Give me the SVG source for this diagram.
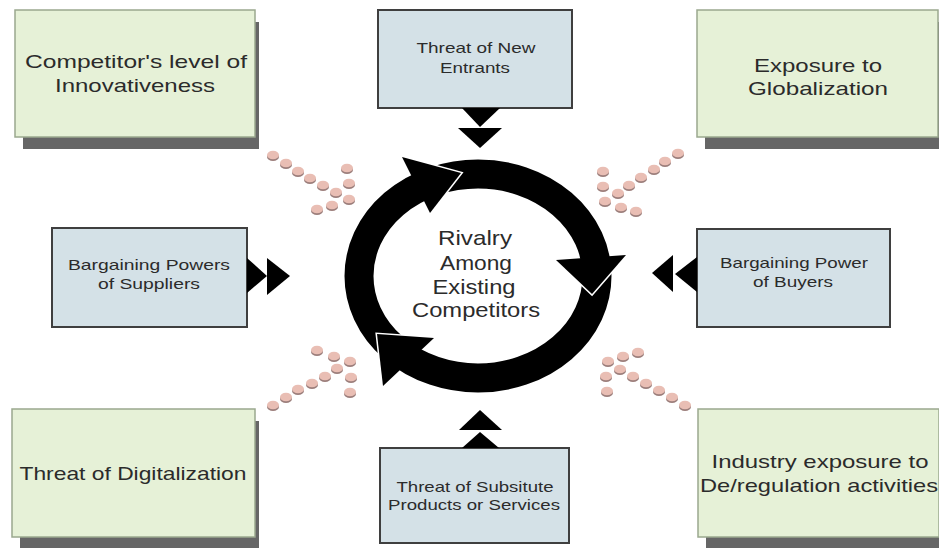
<svg xmlns="http://www.w3.org/2000/svg" width="939" height="548" viewBox="0 0 939 548">
<defs>
<style>
.g{fill:#e6f1d7;stroke:#9aa88e;stroke-width:1.5}
.sh{fill:#666}
.b{fill:#d4e1e7;stroke:#3f3f3f;stroke-width:2}
.t{font-family:"Liberation Sans",Arial,sans-serif;fill:#2b2b2b;text-anchor:middle}
.tg{font-size:19px}
.tb{font-size:15px}
.tc{font-size:21px}
.ar{fill:#000}
.wl{fill:none;stroke:#fff;stroke-width:3;stroke-linejoin:miter}
</style>
<g id="dot">
<ellipse cx="0" cy="1.8" rx="6" ry="4.3" fill="#9c7f7c"/>
<ellipse cx="0" cy="0" rx="6" ry="4.3" fill="#e9beb4"/>
</g>
</defs>
<rect width="939" height="548" fill="#fff"/>

<g id="n-innov">
<rect class="sh" x="23" y="22" width="236" height="127"/>
<rect class="g" x="15" y="10" width="240" height="127"/>
<text class="t tg" x="136" y="68" textLength="222" lengthAdjust="spacingAndGlyphs">Competitor's level of</text>
<text class="t tg" x="135" y="92" textLength="160" lengthAdjust="spacingAndGlyphs">Innovativeness</text>
</g>

<g id="n-glob">
<rect class="sh" x="705" y="22" width="237" height="127"/>
<rect class="g" x="697" y="10" width="241" height="127"/>
<text class="t tg" x="818" y="72" textLength="128" lengthAdjust="spacingAndGlyphs">Exposure to</text>
<text class="t tg" x="818" y="95" textLength="140" lengthAdjust="spacingAndGlyphs">Globalization</text>
</g>

<g id="n-digit">
<rect class="sh" x="20" y="421" width="239" height="128"/>
<rect class="g" x="12" y="409" width="243" height="128"/>
<text class="t tg" x="133" y="480" textLength="227" lengthAdjust="spacingAndGlyphs">Threat of Digitalization</text>
</g>

<g id="n-dereg">
<rect class="sh" x="706" y="421" width="237" height="128"/>
<rect class="g" x="698" y="409" width="241" height="128"/>
<text class="t tg" x="820" y="468" textLength="217" lengthAdjust="spacingAndGlyphs">Industry exposure to</text>
<text class="t tg" x="819" y="492" textLength="238" lengthAdjust="spacingAndGlyphs">De/regulation activities</text>
</g>

<g id="n-entrants">
<rect class="b" x="378" y="10" width="194" height="98"/>
<text class="t tb" x="476" y="53" textLength="119" lengthAdjust="spacingAndGlyphs">Threat of New</text>
<text class="t tb" x="475" y="73" textLength="70" lengthAdjust="spacingAndGlyphs">Entrants</text>
</g>

<g id="n-suppliers">
<rect class="b" x="52" y="228" width="195" height="99"/>
<text class="t tb" x="149" y="270" textLength="162" lengthAdjust="spacingAndGlyphs">Bargaining Powers</text>
<text class="t tb" x="149" y="289" textLength="102" lengthAdjust="spacingAndGlyphs">of Suppliers</text>
</g>

<g id="n-buyers">
<rect class="b" x="697" y="229" width="193" height="98"/>
<text class="t tb" x="794" y="268" textLength="148" lengthAdjust="spacingAndGlyphs">Bargaining Power</text>
<text class="t tb" x="793" y="287" textLength="80" lengthAdjust="spacingAndGlyphs">of Buyers</text>
</g>

<g id="n-substitutes">
<rect class="b" x="380" y="448" width="189" height="95"/>
<text class="t tb" x="475" y="492" textLength="157" lengthAdjust="spacingAndGlyphs">Threat of Subsitute</text>
<text class="t tb" x="474" y="510" textLength="172" lengthAdjust="spacingAndGlyphs">Products or Services</text>
</g>

<g id="n-rivalry">
<ellipse cx="478" cy="276" rx="119" ry="102" fill="none" stroke="#000" stroke-width="29"/>
<polyline class="wl" points="402,157 461,173 430,213"/>
<polygon class="ar" points="402,157 461,173 430,213"/>
<polyline class="wl" points="626,255 592,294 556,260"/>
<polygon class="ar" points="626,255 592,294 556,260"/>
<polyline class="wl" points="383,386 377,334 434,338"/>
<polygon class="ar" points="383,386 377,334 434,338"/>
<text class="t tc" x="475" y="245" textLength="74" lengthAdjust="spacingAndGlyphs">Rivalry</text>
<text class="t tc" x="476" y="270" textLength="72" lengthAdjust="spacingAndGlyphs">Among</text>
<text class="t tc" x="474" y="294" textLength="83" lengthAdjust="spacingAndGlyphs">Existing</text>
<text class="t tc" x="476" y="317" textLength="128" lengthAdjust="spacingAndGlyphs">Competitors</text>
</g>

<g id="connectors">
<polygon class="ar" points="462,108 500,108 480,127"/>
<polygon class="ar" points="458,128 502,128 480,148"/>
<polygon class="ar" points="247,258 247,293 267,276"/>
<polygon class="ar" points="267,258 267,295 290,276"/>
<polygon class="ar" points="697,257 697,292 675,274"/>
<polygon class="ar" points="673,255 673,292 652,273"/>
<polygon class="ar" points="459,430 502,430 480,410"/>
<polygon class="ar" points="462,448 499,448 480,432"/>

<g id="dots-tl">
<use href="#dot" x="273" y="155"/><use href="#dot" x="286" y="163"/><use href="#dot" x="298" y="171"/>
<use href="#dot" x="310" y="178"/><use href="#dot" x="323" y="185"/><use href="#dot" x="336" y="192"/>
<use href="#dot" x="347" y="168"/><use href="#dot" x="349" y="183"/><use href="#dot" x="349" y="199"/>
<use href="#dot" x="332" y="205"/><use href="#dot" x="317" y="209"/>
</g>
<g id="dots-tr">
<use href="#dot" x="678" y="153"/><use href="#dot" x="665" y="161"/><use href="#dot" x="654" y="169"/>
<use href="#dot" x="641" y="177"/><use href="#dot" x="629" y="185"/><use href="#dot" x="618" y="193"/>
<use href="#dot" x="603" y="171"/><use href="#dot" x="603" y="186"/><use href="#dot" x="605" y="201"/>
<use href="#dot" x="621" y="207"/><use href="#dot" x="636" y="211"/>
</g>
<g id="dots-bl">
<use href="#dot" x="317" y="350"/><use href="#dot" x="334" y="356"/><use href="#dot" x="350" y="361"/>
<use href="#dot" x="351" y="377"/><use href="#dot" x="350" y="392"/>
<use href="#dot" x="337" y="368"/><use href="#dot" x="325" y="376"/><use href="#dot" x="312" y="383"/>
<use href="#dot" x="298" y="389"/><use href="#dot" x="286" y="397"/><use href="#dot" x="273" y="405"/>
</g>
<g id="dots-br">
<use href="#dot" x="638" y="352"/><use href="#dot" x="623" y="356"/><use href="#dot" x="608" y="361"/>
<use href="#dot" x="606" y="376"/><use href="#dot" x="607" y="391"/>
<use href="#dot" x="620" y="369"/><use href="#dot" x="633" y="376"/><use href="#dot" x="646" y="383"/>
<use href="#dot" x="659" y="390"/><use href="#dot" x="672" y="397"/><use href="#dot" x="685" y="405"/>
</g>
</g>
</svg>
